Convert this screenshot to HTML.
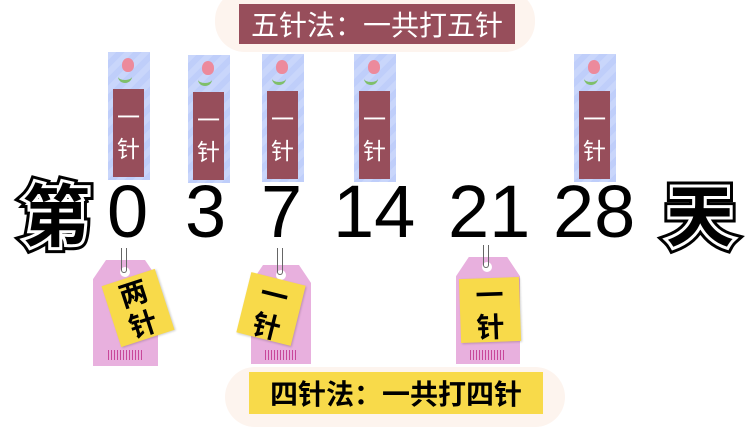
<!DOCTYPE html>
<html><head><meta charset="utf-8"><style>
body{margin:0;width:750px;height:421px;background:#fff;position:relative;overflow:hidden;font-family:"Liberation Sans","Noto Sans CJK SC",sans-serif}
.a{position:absolute}
.bm{position:absolute;background:repeating-linear-gradient(135deg,#c9d6fb 0 6px,#bfcefa 6px 12px);width:42px;height:128px}
.bm .in{position:absolute;left:5px;top:37px;width:31px;height:88px;background:#974e5b;color:#fff;font-size:23px;line-height:32px;text-align:center;padding-top:10px;box-sizing:border-box;font-family:"Noto Sans CJK SC",sans-serif}
.bm .fl{position:absolute;left:14px;top:6px;width:12px;height:14px;background:#ec8a9c;border-radius:50% 50% 45% 45%}
.bm .st{position:absolute;left:10px;top:18px;width:14px;height:10px;border-bottom:3px solid #7fbf6a;border-radius:0 0 50% 50%}
.num{position:absolute;top:172px;font-size:74px;line-height:80px;color:#000;font-family:"Liberation Sans",sans-serif}
.cj{position:absolute;font-family:"Noto Sans CJK SC",sans-serif;font-weight:bold;font-size:68px;line-height:80px;top:172px}
.tag{position:absolute;background:#e8b0de;clip-path:polygon(20% 0,80% 0,100% 18%,100% 100%,0 100%,0 18%)}
.hole{position:absolute;width:10px;height:10px;border-radius:50%;background:#fff}
.bar{position:absolute;height:10px;background:repeating-linear-gradient(90deg,#c8479a 0 1px,transparent 1px 3px)}
.yl{position:absolute;background:#f8da4a;font-size:28px;line-height:32px;text-align:center;color:#000;box-shadow:1px 1px 2px rgba(0,0,0,.2);font-family:"Noto Sans CJK SC",sans-serif;font-weight:bold}
.wire{position:absolute;width:4px;border:1px solid #666;border-top:none;border-radius:0 0 3px 3px}
</style></head><body>
<div class="a" style="left:215px;top:-10px;width:320px;height:62px;background:#fdf4ee;border-radius:30px"></div>
<div class="a" style="left:239px;top:4px;width:276px;height:40px;background:#974e5b;color:#fff;font-size:28px;line-height:40px;text-align:center;font-family:'Noto Sans CJK SC',sans-serif">五针法：一共打五针</div>

<div class="bm" style="left:108px;top:52px"><div class="fl"></div><div class="st"></div><div class="in">一<br>针</div></div>
<div class="bm" style="left:188px;top:55px"><div class="fl"></div><div class="st"></div><div class="in">一<br>针</div></div>
<div class="bm" style="left:262px;top:54px"><div class="fl"></div><div class="st"></div><div class="in">一<br>针</div></div>
<div class="bm" style="left:354px;top:54px"><div class="fl"></div><div class="st"></div><div class="in">一<br>针</div></div>
<div class="bm" style="left:574px;top:54px"><div class="fl"></div><div class="st"></div><div class="in">一<br>针</div></div>

<div class="cj" style="left:22px;color:#000;-webkit-text-stroke:12px #000">第</div>
<div class="cj" style="left:22px;color:#000;-webkit-text-stroke:6px #fff">第</div>
<div class="cj" style="left:22px;color:#000">第</div>
<div class="num" style="left:107px">0</div>
<div class="num" style="left:185px">3</div>
<div class="num" style="left:261px">7</div>
<div class="num" style="left:333px">14</div>
<div class="num" style="left:448px">21</div>
<div class="num" style="left:553px">28</div>
<div class="cj" style="left:666px;color:#000;-webkit-text-stroke:12px #000">天</div>
<div class="cj" style="left:666px;color:#000;-webkit-text-stroke:6px #fff">天</div>
<div class="cj" style="left:666px;color:#000">天</div>

<div class="tag" style="left:93px;top:260px;width:65px;height:106px"></div>
<div class="hole" style="left:120px;top:267px"></div>
<div class="wire" style="left:121px;top:248px;height:24px"></div>
<div class="bar" style="left:108px;top:350px;width:35px"></div>
<div class="yl" style="left:110px;top:276px;width:56px;height:64px;transform:rotate(-18deg);padding-top:0">两<br>针</div>

<div class="tag" style="left:251px;top:265px;width:60px;height:99px"></div>
<div class="hole" style="left:276px;top:270px"></div>
<div class="wire" style="left:277px;top:248px;height:26px"></div>
<div class="bar" style="left:265px;top:350px;width:32px"></div>
<div class="yl" style="left:243px;top:278px;width:56px;height:62px;transform:rotate(14deg)">一<br>针</div>

<div class="tag" style="left:456px;top:257px;width:64px;height:107px"></div>
<div class="hole" style="left:482px;top:262px"></div>
<div class="wire" style="left:483px;top:245px;height:22px"></div>
<div class="bar" style="left:470px;top:350px;width:36px"></div>
<div class="yl" style="left:460px;top:278px;width:60px;height:64px;transform:rotate(-2deg)">一<br>针</div>

<div class="a" style="left:225px;top:367px;width:340px;height:60px;background:#fdf4ee;border-radius:30px"></div>
<div class="a" style="left:249px;top:372px;width:294px;height:42px;background:#f8da4a;color:#000;font-size:28px;line-height:42px;text-align:center;font-family:'Noto Sans CJK SC',sans-serif;font-weight:bold">四针法：一共打四针</div>
</body></html>
